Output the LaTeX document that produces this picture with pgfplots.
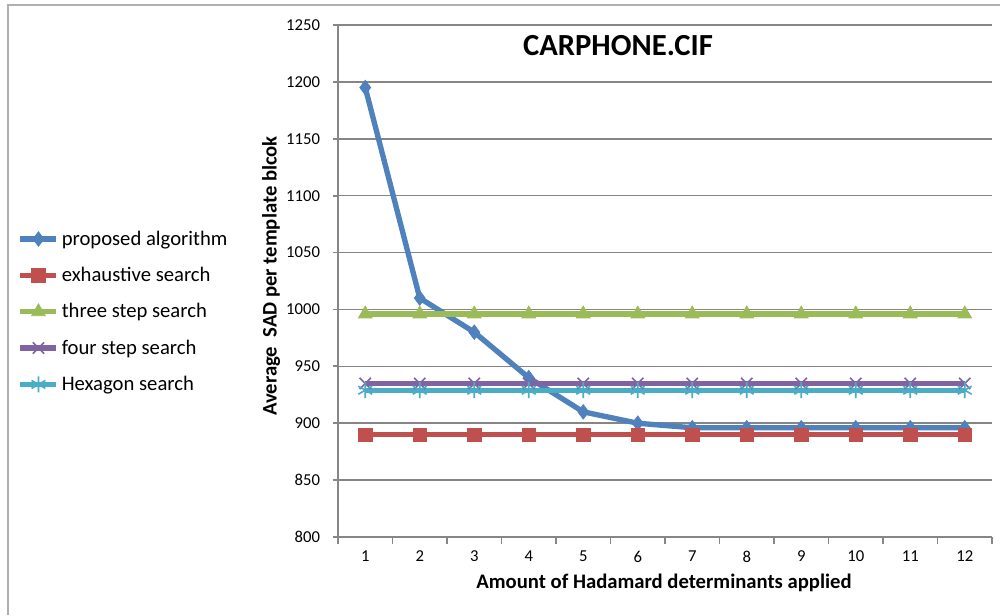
\documentclass[border=0pt]{standalone}
\usepackage{fontspec}
\setmainfont{Carlito}
\usepackage{pgfplots}
\pgfplotsset{compat=1.18}

\definecolor{sBlue}{HTML}{4F81BD}
\definecolor{sRed}{HTML}{C0504D}
\definecolor{sGreen}{HTML}{9BBB59}
\definecolor{sPurple}{HTML}{8064A2}
\definecolor{sCyan}{HTML}{4BACC6}
\definecolor{gridgray}{HTML}{868686}
\definecolor{framegray}{HTML}{B0B0B0}

\begin{document}
\begin{tikzpicture}
\path[use as bounding box] (0pt,0pt) rectangle (750pt,461.25pt);
% chart area frame
\draw[framegray,line width=1.2pt] (6pt,0pt) -- (6pt,457.5pt) -- (750pt,457.5pt);

\begin{axis}[
  at={(253.5pt,58.5pt)}, anchor=south west,
  scale only axis,
  width=490.5pt, height=384pt,
  xmin=0.5, xmax=12.5,
  ymin=800, ymax=1250,
  axis x line*=bottom, axis y line*=left,
  axis line style={gridgray,line width=1.3pt,-},
  xtick={1,...,12},
  major x tick style={draw=none},
  minor xtick={0.5,1.5,...,12.5},
  minor x tick style={gridgray,line width=1.3pt},
  minor tick length=5pt,
  ytick={800,850,...,1250},
  major tick length=4pt,
  major y tick style={gridgray,line width=1.3pt},
  tick align=outside,
  ymajorgrids,
  major grid style={gridgray,line width=1.1pt},
  /pgf/number format/assume math mode=true,
  /pgf/number format/1000 sep={},
  tick label style={font=\fontsize{12.5}{12.5}\selectfont, text=black},
  yticklabel style={xshift=-6pt},
  xticklabel style={yshift=-3pt},
  legend style={at={(-0.49,0.44)}, anchor=west, draw=none, fill=none,
    font=\fontsize{15.5}{15.5}\selectfont, row sep=11pt,
    inner sep=0pt},
  legend cell align=left,
  legend image code/.code={%
    \draw[mark repeat=2,mark phase=2] plot coordinates {(0pt,0pt) (13.5pt,0pt) (27pt,0pt)};},
  every axis plot/.append style={line width=4pt},
  clip=false,
]
\addplot[sBlue, mark=diamond*, mark size=5.5pt, mark options={solid,line width=0.5pt}]
  coordinates {(1,1195) (2,1010) (3,980) (4,940) (5,910) (6,900)
               (7,896) (8,896) (9,896) (10,896) (11,896) (12,896)};
\addlegendentry{proposed algorithm}
\addplot[sRed, mark=square*, mark size=5pt, mark options={solid,line width=0.5pt}]
  coordinates {(1,890) (2,890) (3,890) (4,890) (5,890) (6,890)
               (7,890) (8,890) (9,890) (10,890) (11,890) (12,890)};
\addlegendentry{exhaustive search}
\addplot[sGreen, mark=triangle*, mark size=6pt, mark options={solid,line width=0.5pt}]
  coordinates {(1,996) (2,996) (3,996) (4,996) (5,996) (6,996)
               (7,996) (8,996) (9,996) (10,996) (11,996) (12,996)};
\addlegendentry{three step search}
\addplot[sPurple, mark=x, mark size=6pt, mark options={solid,line width=1.2pt}]
  coordinates {(1,935) (2,935) (3,935) (4,935) (5,935) (6,935)
               (7,935) (8,935) (9,935) (10,935) (11,935) (12,935)};
\addlegendentry{four step search}
\addplot[sCyan, mark=asterisk, mark size=6pt, mark options={solid,line width=1.2pt}]
  coordinates {(1,929) (2,929) (3,929) (4,929) (5,929) (6,929)
               (7,929) (8,929) (9,929) (10,929) (11,929) (12,929)};
\addlegendentry{Hexagon search}
\end{axis}

% titles
\node[font=\fontsize{23}{23}\selectfont\bfseries] at (463.5pt,426.75pt) {CARPHONE.CIF};
\node[font=\fontsize{15.5}{15.5}\selectfont\bfseries] at (498pt,24pt) {Amount of Hadamard determinants applied};
\node[font=\fontsize{15.5}{15.5}\selectfont\bfseries, rotate=90] at (203.25pt,254.25pt) {Average\ \ SAD per template blcok};
\end{tikzpicture}
\end{document}
